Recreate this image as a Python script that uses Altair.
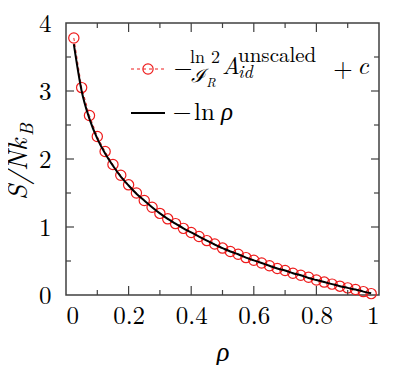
import altair as alt
import pandas as pd

# ---------------- data ----------------
rho = [0.025, 0.05, 0.075, 0.1, 0.125, 0.15, 0.175, 0.2, 0.225, 0.25,
       0.275, 0.3, 0.325, 0.35, 0.375, 0.4, 0.425, 0.45, 0.475, 0.5,
       0.525, 0.55, 0.575, 0.6, 0.625, 0.65, 0.675, 0.7, 0.725, 0.75,
       0.775, 0.8, 0.825, 0.85, 0.875, 0.9, 0.925, 0.95, 0.975]
scaled_entropy = [3.78, 3.05, 2.64, 2.33, 2.11, 1.92, 1.76, 1.62, 1.50, 1.39,
                  1.29, 1.20, 1.12, 1.05, 0.98, 0.92, 0.86, 0.80, 0.75, 0.69,
                  0.64, 0.60, 0.55, 0.51, 0.47, 0.43, 0.39, 0.36, 0.32, 0.29,
                  0.26, 0.22, 0.19, 0.16, 0.13, 0.105, 0.08, 0.05, 0.02]
neg_ln_rho = [3.69, 3.00, 2.59, 2.30, 2.08, 1.90, 1.74, 1.61, 1.49, 1.39,
              1.29, 1.20, 1.12, 1.05, 0.98, 0.92, 0.86, 0.80, 0.74, 0.69,
              0.64, 0.60, 0.55, 0.51, 0.47, 0.43, 0.39, 0.36, 0.32, 0.29,
              0.25, 0.22, 0.19, 0.16, 0.13, 0.105, 0.08, 0.05, 0.025]
x_major = [0.2, 0.4, 0.6, 0.8]
x_minor = [0.1, 0.3, 0.5, 0.7, 0.9]
y_major = [1, 2, 3]
y_minor = [0.5, 1.5, 2.5, 3.5]
x_labels = [0, 0.2, 0.4, 0.6, 0.8, 1]
y_labels = [0, 1, 2, 3, 4]

W, H = 313, 272
FONT = "Latin Modern Roman, Liberation Serif, FreeSerif"
AX = "#404040"
RED = "#ee1c1c"

df = pd.DataFrame({"rho": rho, "s": scaled_entropy, "l": neg_ln_rho})
one = pd.DataFrame({"a": [0]})

xs = alt.Scale(domain=[0, 1], nice=False, zero=False)
ys = alt.Scale(domain=[0, 4], nice=False, zero=False)
x_axis = alt.Axis(values=x_labels, format=".1~f", ticks=False, domain=False,
                  grid=False, labelPadding=8, labelFont=FONT, labelFontSize=25,
                  labelColor="black", title="ρ", titleFont=FONT,
                  titleFontStyle="italic", titleFontWeight="normal",
                  titleFontSize=27, titleColor="black", titlePadding=11)
y_axis = alt.Axis(values=y_labels, format="d", ticks=False, domain=False,
                  grid=False, labelPadding=15, labelFont=FONT, labelFontSize=25,
                  labelColor="black", title=None)

base = alt.Chart(df)
dash_line = base.mark_line(color=RED, strokeWidth=1, strokeDash=[3, 3]).encode(
    x=alt.X("rho:Q", scale=xs, axis=x_axis), y=alt.Y("s:Q", scale=ys, axis=y_axis))
circles = base.mark_point(shape="circle", filled=False, color=RED, size=105,
                          strokeWidth=1.2, opacity=1).encode(
    x=alt.X("rho:Q", scale=xs), y=alt.Y("s:Q", scale=ys))
curve = base.mark_line(color="black", strokeWidth=2, interpolate="monotone").encode(
    x=alt.X("rho:Q", scale=xs), y=alt.Y("l:Q", scale=ys))


def xticks(vals, ln):
    d = pd.DataFrame({"v": vals})
    b = alt.Chart(d).mark_rule(color=AX, strokeWidth=1.2)
    return [b.encode(x=alt.X("v:Q", scale=xs), y=alt.value(H), y2=alt.value(H - ln)),
            b.encode(x=alt.X("v:Q", scale=xs), y=alt.value(0), y2=alt.value(ln))]


def yticks(vals, ln):
    d = pd.DataFrame({"v": vals})
    b = alt.Chart(d).mark_rule(color=AX, strokeWidth=1.2)
    return [b.encode(y=alt.Y("v:Q", scale=ys), x=alt.value(0), x2=alt.value(ln)),
            b.encode(y=alt.Y("v:Q", scale=ys), x=alt.value(W), x2=alt.value(W - ln))]


def txt(s, x, y, size, style="normal", align="center", baseline="alphabetic", angle=0):
    return alt.Chart(one).mark_text(text=s, font=FONT, fontSize=size, fontStyle=style,
                                    align=align, baseline=baseline, angle=angle,
                                    color="black").encode(x=alt.value(x), y=alt.value(y))


ticks = xticks(x_major, 9) + xticks(x_minor, 5) + yticks(y_major, 8) + yticks(y_minor, 5)

# legend samples
leg_red = alt.Chart(one).mark_rule(color=RED, strokeWidth=1, strokeDash=[3, 3]).encode(
    x=alt.value(65), x2=alt.value(99), y=alt.value(46))
leg_circ = alt.Chart(one).mark_point(shape="circle", filled=False, color=RED, size=105,
                                     strokeWidth=1.2, opacity=1).encode(
    x=alt.value(82), y=alt.value(46))
leg_black = alt.Chart(one).mark_rule(color="black", strokeWidth=2).encode(
    x=alt.value(65), x2=alt.value(99), y=alt.value(90))

texts = [
    txt("−", 117, 46, 24, baseline="middle"),
    txt("ln 2", 139, 40, 18),
    txt("ℐ", 133, 59, 19, style="italic"),
    txt("R", 145, 64, 13, style="italic"),
    txt("A", 156, 51, 24, style="italic", align="left"),
    txt("unscaled", 172, 39, 21, align="left"),
    txt("id", 172, 55, 18, style="italic", align="left"),
    txt("+", 277, 46, 25, baseline="middle"),
    txt("c", 297, 51, 25, style="italic"),
    txt("−", 116, 90, 24, baseline="middle"),
    txt("ln", 128, 97, 25, align="left"),
    txt("ρ", 155, 97, 25, style="italic", align="left"),
    # y-axis title S/Nk_B
    txt("S/Nk", -39, 177, 27, style="italic", align="left", angle=270),
    txt("B", -33, 113, 18, style="italic", align="left", angle=270),
]

chart = alt.layer(dash_line, circles, curve, *ticks, leg_red, leg_circ, leg_black,
                  *texts).properties(
    width=W, height=H,
    autosize=alt.AutoSizeParams(type="none"),
    padding={"left": 58, "top": 15, "right": 20, "bottom": 70},
).configure_view(stroke=AX, strokeWidth=1.5)

chart.save("out.html", embed_options={"renderer": "svg", "actions": False})
